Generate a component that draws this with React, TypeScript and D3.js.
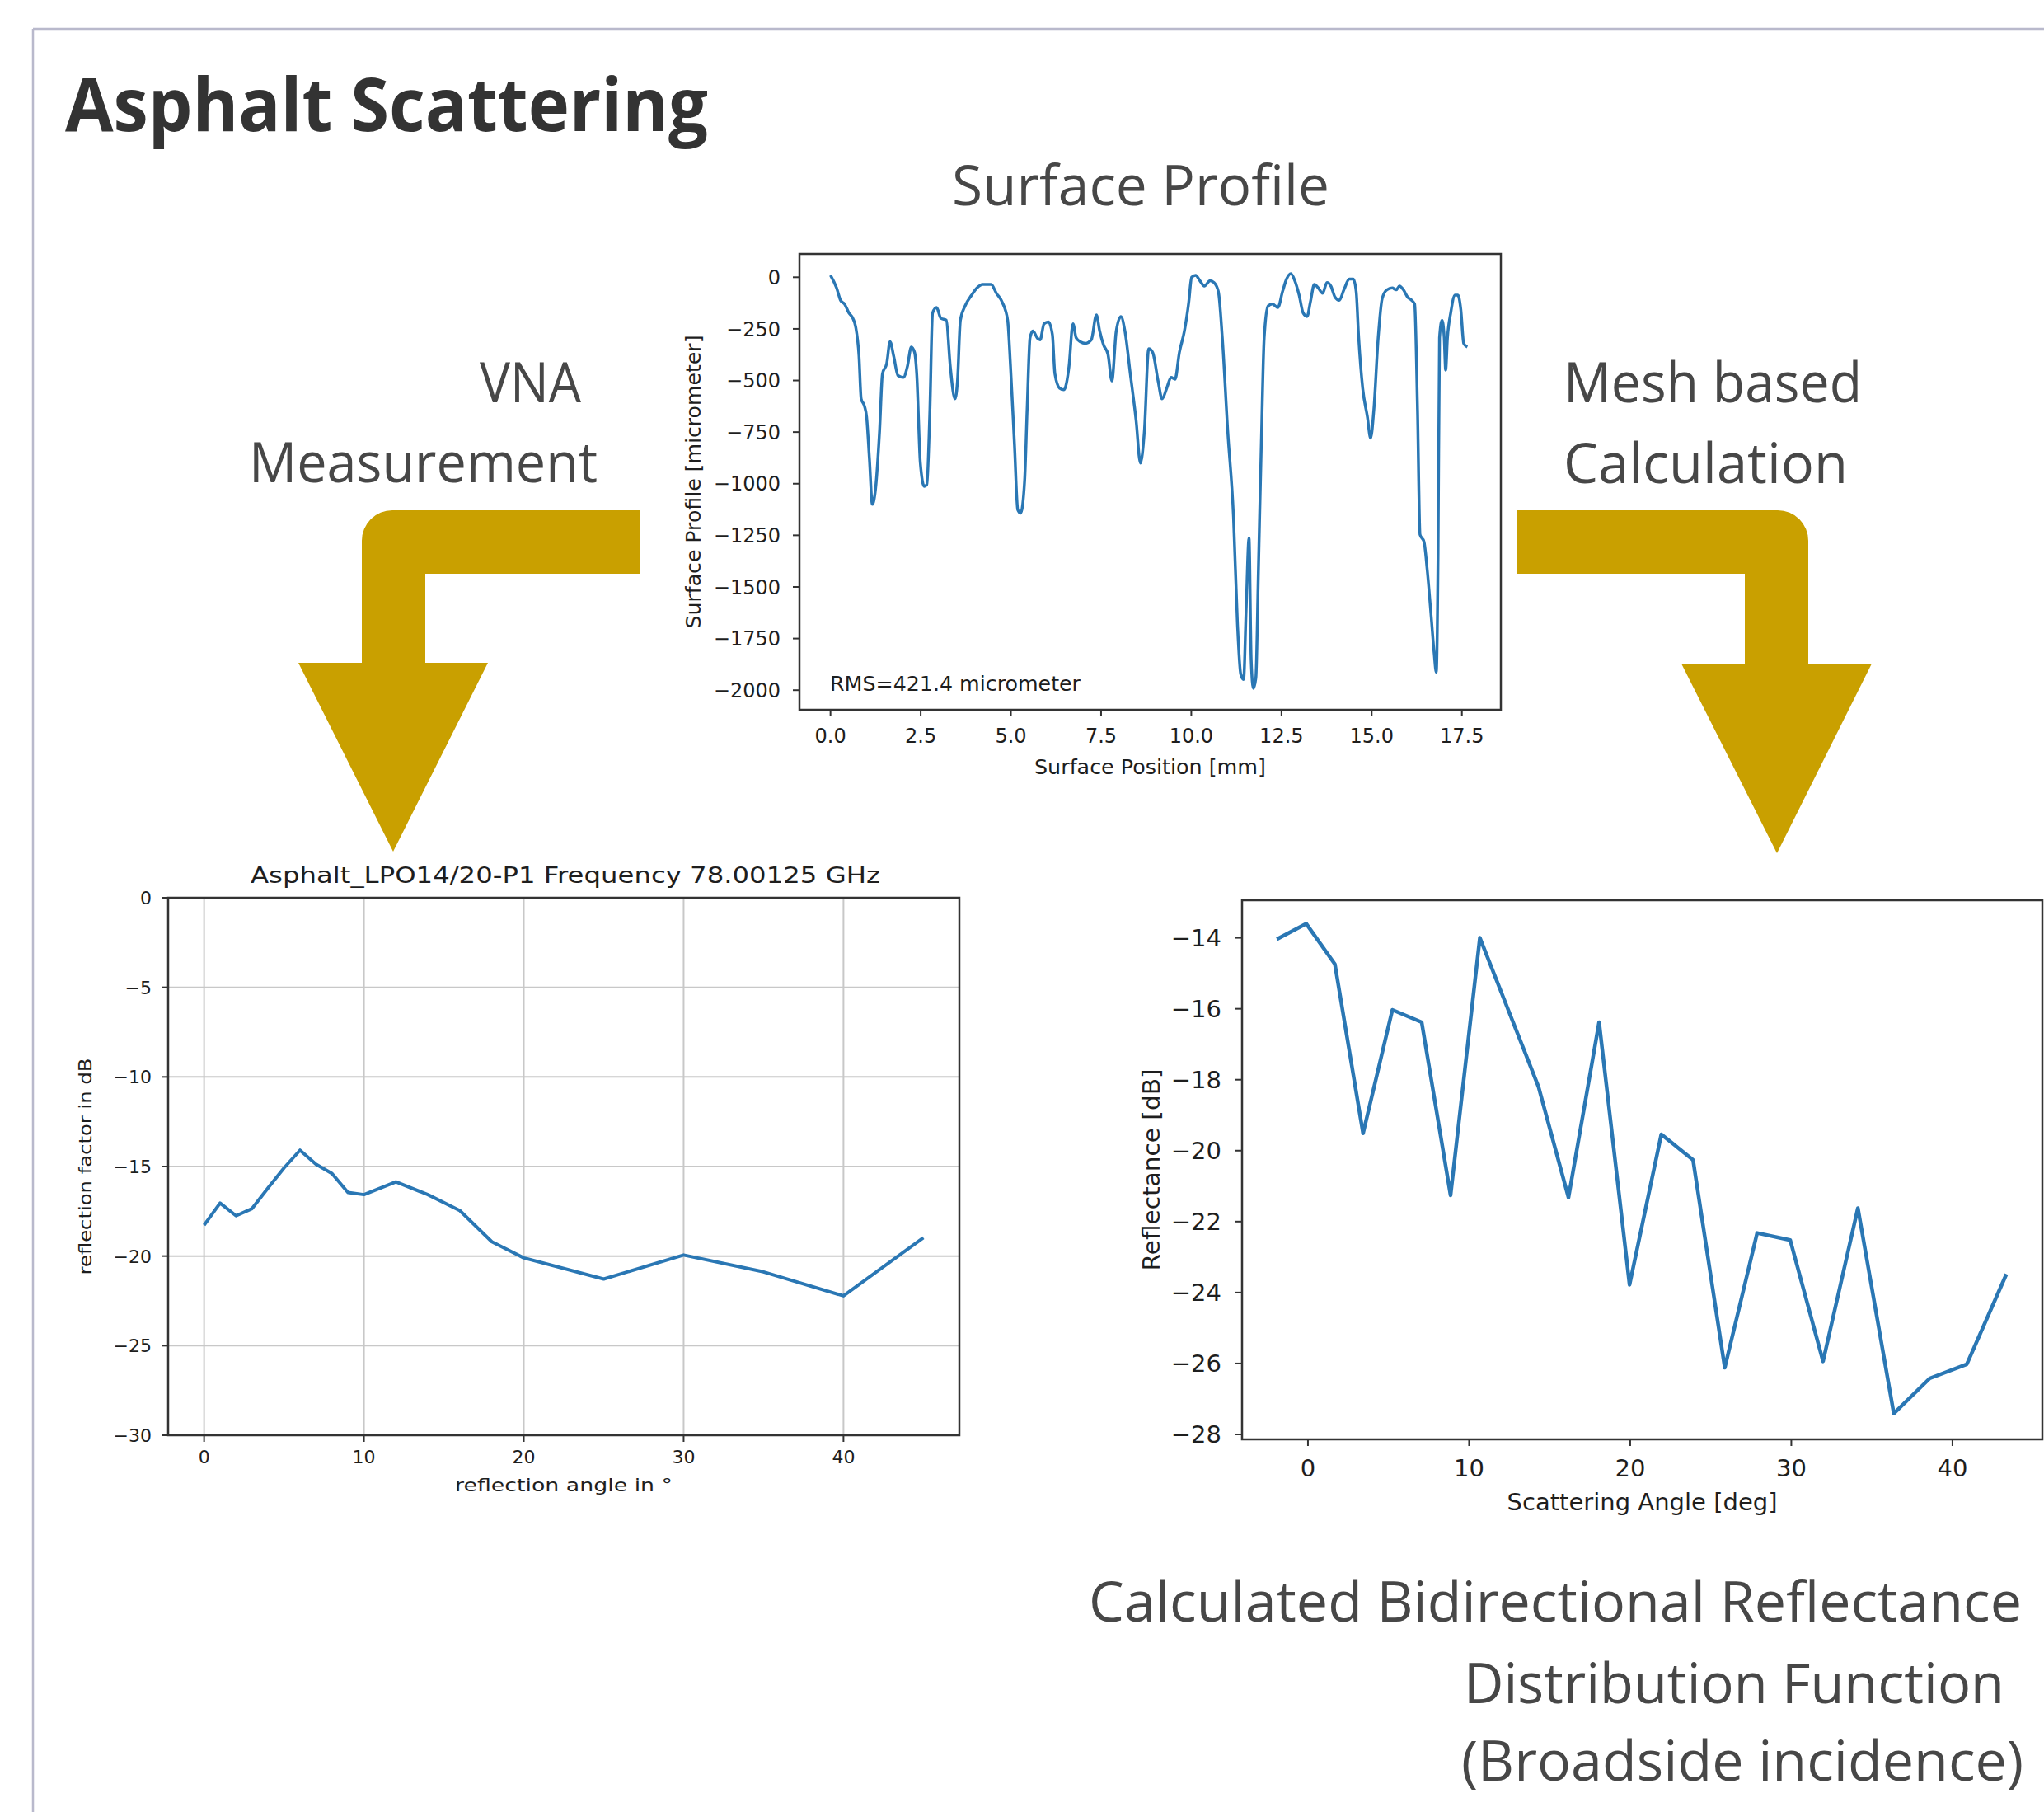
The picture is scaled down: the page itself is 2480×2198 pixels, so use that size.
import * as d3 from 'd3'
import { useEffect, useRef } from 'react'

// Surface profile trace (mm, micrometer)
const surfaceX = [
    0.0, 0.17, 0.28, 0.39, 0.51, 0.62, 0.7, 0.79, 0.85, 0.94, 1.0, 1.08, 1.16, 1.25, 1.36, 1.44, 1.56, 1.65,
    1.75, 1.87, 2.02, 2.13, 2.24, 2.33, 2.39, 2.49, 2.6, 2.67, 2.75, 2.83, 2.94, 3.06, 3.21, 3.32, 3.45, 3.52,
    3.6, 3.73, 3.91, 4.06, 4.22, 4.45, 4.6, 4.76, 4.91, 4.99, 5.1, 5.19, 5.27, 5.38, 5.45, 5.53, 5.61, 5.73,
    5.81, 5.92, 6.04, 6.15, 6.22, 6.35, 6.47, 6.61, 6.72, 6.81, 6.92, 7.07, 7.23, 7.37, 7.46, 7.57, 7.69, 7.8,
    7.92, 8.05, 8.16, 8.31, 8.47, 8.59, 8.7, 8.82, 8.93, 9.08, 9.19, 9.32, 9.44, 9.55, 9.67, 9.81, 9.93, 10.01,
    10.12, 10.24, 10.36, 10.52, 10.63, 10.75, 10.86, 11.01, 11.17, 11.28, 11.37, 11.45, 11.52, 11.6, 11.66,
    11.72, 11.79, 11.86, 11.94, 12.02, 12.13, 12.25, 12.4, 12.53, 12.64, 12.76, 12.87, 12.99, 13.1, 13.21,
    13.3, 13.41, 13.52, 13.64, 13.76, 13.87, 13.98, 14.1, 14.23, 14.38, 14.49, 14.57, 14.64, 14.75, 14.88,
    14.97, 15.06, 15.18, 15.29, 15.42, 15.57, 15.68, 15.77, 15.88, 15.99, 16.11, 16.19, 16.27, 16.34, 16.45,
    16.54, 16.65, 16.73, 16.79, 16.84, 16.88, 16.95, 17.01, 17.05, 17.1, 17.19, 17.31, 17.39, 17.47, 17.55,
    17.65,
]
const surfaceY = [
    10, -52, -112, -130, -173, -199, -242, -381, -589, -623, -675, -883, -1100, -1022, -745, -468, -416, -312,
    -381, -476, -485, -433, -338, -364, -468, -900, -1013, -1004, -675, -173, -147, -199, -208, -433, -589, -502,
    -208, -139, -87, -52, -35, -35, -78, -121, -208, -433, -814, -1126, -1143, -987, -641, -294, -260, -294,
    -303, -225, -216, -277, -468, -537, -545, -433, -225, -294, -312, -320, -303, -182, -260, -329, -372, -502,
    -260, -190, -260, -468, -693, -900, -745, -346, -364, -502, -589, -537, -485, -494, -364, -260, -121, 0,
    9, -17, -43, -17, -26, -69, -294, -745, -1160, -1680, -1922, -1948, -1610, -1264, -1853,
    -1991, -1939, -1420, -814, -294, -139, -130, -147, -69, -9, 17, -17, -87, -173, -190,
    -121, -35, -52, -78, -26, -43, -95, -112, -61, -9, -9, -69, -294, -537, -675,
    -779, -641, -294, -104, -61, -52, -61, -43, -61, -95, -112, -130, -641, -1247, -1281,
    -1420, -1645, -1818, -1913, -1333, -294, -208, -294, -450, -294, -173, -87, -87, -156, -320,
    -338,
]
const surfaceXTicks = [0, 2.5, 5, 7.5, 10, 12.5, 15, 17.5]
const surfaceYTicks = [0, -250, -500, -750, -1000, -1250, -1500, -1750, -2000]

// VNA measurement
const vnaAngle = [0, 1, 2, 3, 4, 5, 6, 7, 8, 9, 10, 12, 14, 16, 18, 20, 25, 30, 35, 40, 45]
const vnaDb = [
    -18.27, -17.04, -17.75, -17.35, -16.2, -15.08, -14.09, -14.87, -15.39, -16.45, -16.57, -15.86, -16.57,
    -17.46, -19.2, -20.1, -21.28, -19.94, -20.88, -22.22, -18.97,
]
const vnaXTicks = [0, 10, 20, 30, 40]
const vnaYTicks = [0, -5, -10, -15, -20, -25, -30]

// Mesh based calculation
const bdrfAngle = [
    -1.93, -0.11, 1.67, 3.42, 5.24, 7.06, 8.85, 10.67, 12.49, 14.31, 16.17, 18.07, 19.96, 21.93, 23.9, 25.87,
    27.88, 29.93, 31.97, 34.13, 36.36, 38.59, 40.89, 43.35,
]
const bdrfDb = [
    -14.04, -13.6, -14.74, -19.51, -16.03, -16.38, -21.26, -14.0, -16.1, -18.2, -21.32, -16.38, -23.78, -19.54,
    -20.26, -26.12, -22.32, -22.52, -25.94, -21.62, -27.41, -26.42, -26.02, -23.48,
]
const bdrfXTicks = [0, 10, 20, 30, 40]
const bdrfYTicks = [-14, -16, -18, -20, -22, -24, -26, -28]

const BLUE = '#2a77b4'
const GOLD = '#c9a000'
const INK = '#1e1e1e'
const GREY_TEXT = '#474747'

interface PanelCfg {
    x0: number
    x1: number
    y0: number
    y1: number
    xDomain: [number, number]
    yDomain: [number, number]
    xs: number[]
    ys: number[]
    xTicks: number[]
    yTicks: number[]
    xFmt: (d: number) => string
    yFmt: (d: number) => string
    fs: number
    grid: boolean
    lw: number
    xLabel: string
    yLabel: string
    xLabelY: number
    yLabelX: number
    xLabelLen: number
    yLabelLen: number
    xTickY: number
    yTickX: number
    smooth: boolean
}

function drawPanel(svg: d3.Selection<SVGSVGElement, unknown, null, undefined>, c: PanelCfg) {
    const x = d3.scaleLinear().domain(c.xDomain).range([c.x0, c.x1])
    const y = d3.scaleLinear().domain(c.yDomain).range([c.y1, c.y0])
    const g = svg.append('g').attr('font-family', 'DejaVu Sans, sans-serif').attr('fill', INK)

    if (c.grid) {
        c.xTicks.forEach((t) => {
            g.append('line')
                .attr('x1', x(t)).attr('x2', x(t))
                .attr('y1', c.y0).attr('y2', c.y1)
                .attr('stroke', '#c8c8c8').attr('stroke-width', 2)
        })
        c.yTicks.forEach((t) => {
            g.append('line')
                .attr('x1', c.x0).attr('x2', c.x1)
                .attr('y1', y(t)).attr('y2', y(t))
                .attr('stroke', '#c8c8c8').attr('stroke-width', 2)
        })
    }

    const line = d3
        .line<number>()
        .x((_, i) => x(c.xs[i]))
        .y((d) => y(d))
        .curve(c.smooth ? d3.curveMonotoneX : d3.curveLinear)

    g.append('path')
        .datum(c.ys)
        .attr('d', line)
        .attr('fill', 'none')
        .attr('stroke', BLUE)
        .attr('stroke-width', c.lw)
        .attr('stroke-linejoin', 'round')

    // spines
    g.append('rect')
        .attr('x', c.x0).attr('y', c.y0)
        .attr('width', c.x1 - c.x0).attr('height', c.y1 - c.y0)
        .attr('fill', 'none').attr('stroke', '#333').attr('stroke-width', 2.5)

    const tickLen = 8
    c.xTicks.forEach((t) => {
        g.append('line')
            .attr('x1', x(t)).attr('x2', x(t))
            .attr('y1', c.y1).attr('y2', c.y1 + tickLen)
            .attr('stroke', '#333').attr('stroke-width', 2)
        g.append('text')
            .attr('x', x(t)).attr('y', c.xTickY + 0.36 * c.fs)
            .attr('text-anchor', 'middle')
            .attr('font-size', c.fs)
            .text(c.xFmt(t))
    })
    c.yTicks.forEach((t) => {
        g.append('line')
            .attr('x1', c.x0 - tickLen).attr('x2', c.x0)
            .attr('y1', y(t)).attr('y2', y(t))
            .attr('stroke', '#333').attr('stroke-width', 2)
        g.append('text')
            .attr('x', c.yTickX).attr('y', y(t) + 0.36 * c.fs)
            .attr('text-anchor', 'end')
            .attr('font-size', c.fs)
            .text(c.yFmt(t))
    })

    const cx = (c.x0 + c.x1) / 2
    const cy = (c.y0 + c.y1) / 2
    g.append('text')
        .attr('x', cx - c.xLabelLen / 2).attr('y', c.xLabelY + 0.36 * c.fs)
        .attr('font-size', c.fs)
        .attr('textLength', c.xLabelLen).attr('lengthAdjust', 'spacingAndGlyphs')
        .text(c.xLabel)
    g.append('text')
        .attr('transform', `translate(${c.yLabelX + 0.36 * c.fs},${cy + c.yLabelLen / 2}) rotate(-90)`)
        .attr('font-size', c.fs)
        .attr('textLength', c.yLabelLen).attr('lengthAdjust', 'spacingAndGlyphs')
        .text(c.yLabel)
    return { x, y, g }
}

export default function App() {
    const svgRef = useRef<SVGSVGElement>(null)

    useEffect(() => {
        if (!svgRef.current) return
        const svg = d3.select(svgRef.current)
        svg.selectAll('*').remove()

        svg.append('rect').attr('width', 2480).attr('height', 2198).attr('fill', '#fff')

        // frame of the slide
        svg.append('line').attr('x1', 40).attr('x2', 2480).attr('y1', 35).attr('y2', 35)
            .attr('stroke', '#b9b9cc').attr('stroke-width', 2.5)
        svg.append('line').attr('x1', 40).attr('x2', 40).attr('y1', 35).attr('y2', 2198)
            .attr('stroke', '#b9b9cc').attr('stroke-width', 2.5)

        // title
        svg.append('text')
            .attr('x', 79).attr('y', 159)
            .attr('font-family', 'Open Sans, sans-serif').attr('font-weight', 700)
            .attr('font-size', 90).attr('fill', '#333')
            .attr('textLength', 780).attr('lengthAdjust', 'spacingAndGlyphs')
            .text('Asphalt Scattering')

        // captions
        const captions: [string, number, number, number][] = [
            ['Surface Profile', 1155, 249, 458],
            ['VNA', 582, 488, 123],
            ['Measurement', 302, 585, 423],
            ['Mesh based', 1897, 488, 362],
            ['Calculation', 1897, 586, 345],
            ['Calculated Bidirectional Reflectance', 1321, 1967, 1132],
            ['Distribution Function', 1776, 2066, 656],
            ['(Broadside incidence)', 1773, 2160, 682],
        ]
        captions.forEach(([t, x, y, len]) => {
            svg.append('text')
                .attr('x', x).attr('y', y)
                .attr('font-family', 'Open Sans, sans-serif')
                .attr('font-size', 67).attr('fill', GREY_TEXT)
                .attr('textLength', len).attr('lengthAdjust', 'spacingAndGlyphs')
                .text(t)
        })

        // arrows
        svg.append('path')
            .attr('d', 'M777,619 H476 A37,37 0 0 0 439,656 V804 H362 L477,1033 L592,804 H516 V696 H777 Z')
            .attr('fill', GOLD)
        svg.append('path')
            .attr('d', 'M1840,619 H2157 A37,37 0 0 1 2194,656 V805 H2271 L2156,1035 L2040,805 H2117 V696 H1840 Z')
            .attr('fill', GOLD)

        const fmt0 = d3.format('d')

        // surface profile panel
        const sp = drawPanel(svg, {
            x0: 970, x1: 1821, y0: 308, y1: 861,
            xDomain: [-0.86, 18.58], yDomain: [-2095, 113],
            xs: surfaceX, ys: surfaceY,
            xTicks: surfaceXTicks, yTicks: surfaceYTicks,
            xFmt: d3.format('.1f'), yFmt: fmt0,
            fs: 24, grid: false, lw: 3.5,
            xLabel: 'Surface Position [mm]', yLabel: 'Surface Profile [micrometer]',
            xLabelY: 930, yLabelX: 841, xLabelLen: 281, yLabelLen: 356,
            xTickY: 892, yTickX: 947, smooth: true,
        })
        sp.g.append('text')
            .attr('x', 1007).attr('y', 838)
            .attr('font-size', 24)
            .attr('textLength', 304).attr('lengthAdjust', 'spacingAndGlyphs')
            .text('RMS=421.4 micrometer')

        // VNA panel
        const vp = drawPanel(svg, {
            x0: 204, x1: 1164, y0: 1089, y1: 1741,
            xDomain: [-2.25, 47.25], yDomain: [-30, 0],
            xs: vnaAngle, ys: vnaDb,
            xTicks: vnaXTicks, yTicks: vnaYTicks,
            xFmt: fmt0, yFmt: fmt0,
            fs: 22, grid: true, lw: 4,
            xLabel: 'reflection angle in °', yLabel: 'reflection factor in dB',
            xLabelY: 1801, yLabelX: 103, xLabelLen: 264, yLabelLen: 263,
            xTickY: 1767, yTickX: 184, smooth: false,
        })
        vp.g.append('text')
            .attr('x', 304).attr('y', 1071)
            .attr('font-size', 26)
            .attr('textLength', 764).attr('lengthAdjust', 'spacingAndGlyphs')
            .text('Asphalt_LPO14/20-P1 Frequency 78.00125 GHz')

        // BRDF panel
        drawPanel(svg, {
            x0: 1507, x1: 2478, y0: 1092, y1: 1746,
            xDomain: [-4.09, 45.58], yDomain: [-28.14, -12.94],
            xs: bdrfAngle, ys: bdrfDb,
            xTicks: bdrfXTicks, yTicks: bdrfYTicks,
            xFmt: fmt0, yFmt: fmt0,
            fs: 29, grid: false, lw: 4.5,
            xLabel: 'Scattering Angle [deg]', yLabel: 'Reflectance [dB]',
            xLabelY: 1822, yLabelX: 1397, xLabelLen: 328, yLabelLen: 245,
            xTickY: 1781, yTickX: 1482, smooth: false,
        })
    }, [])

    return (
        <svg
            ref={svgRef}
            width={2480}
            height={2198}
            style={{ position: 'absolute', left: 0, top: 0, display: 'block' }}
        />
    )
}
